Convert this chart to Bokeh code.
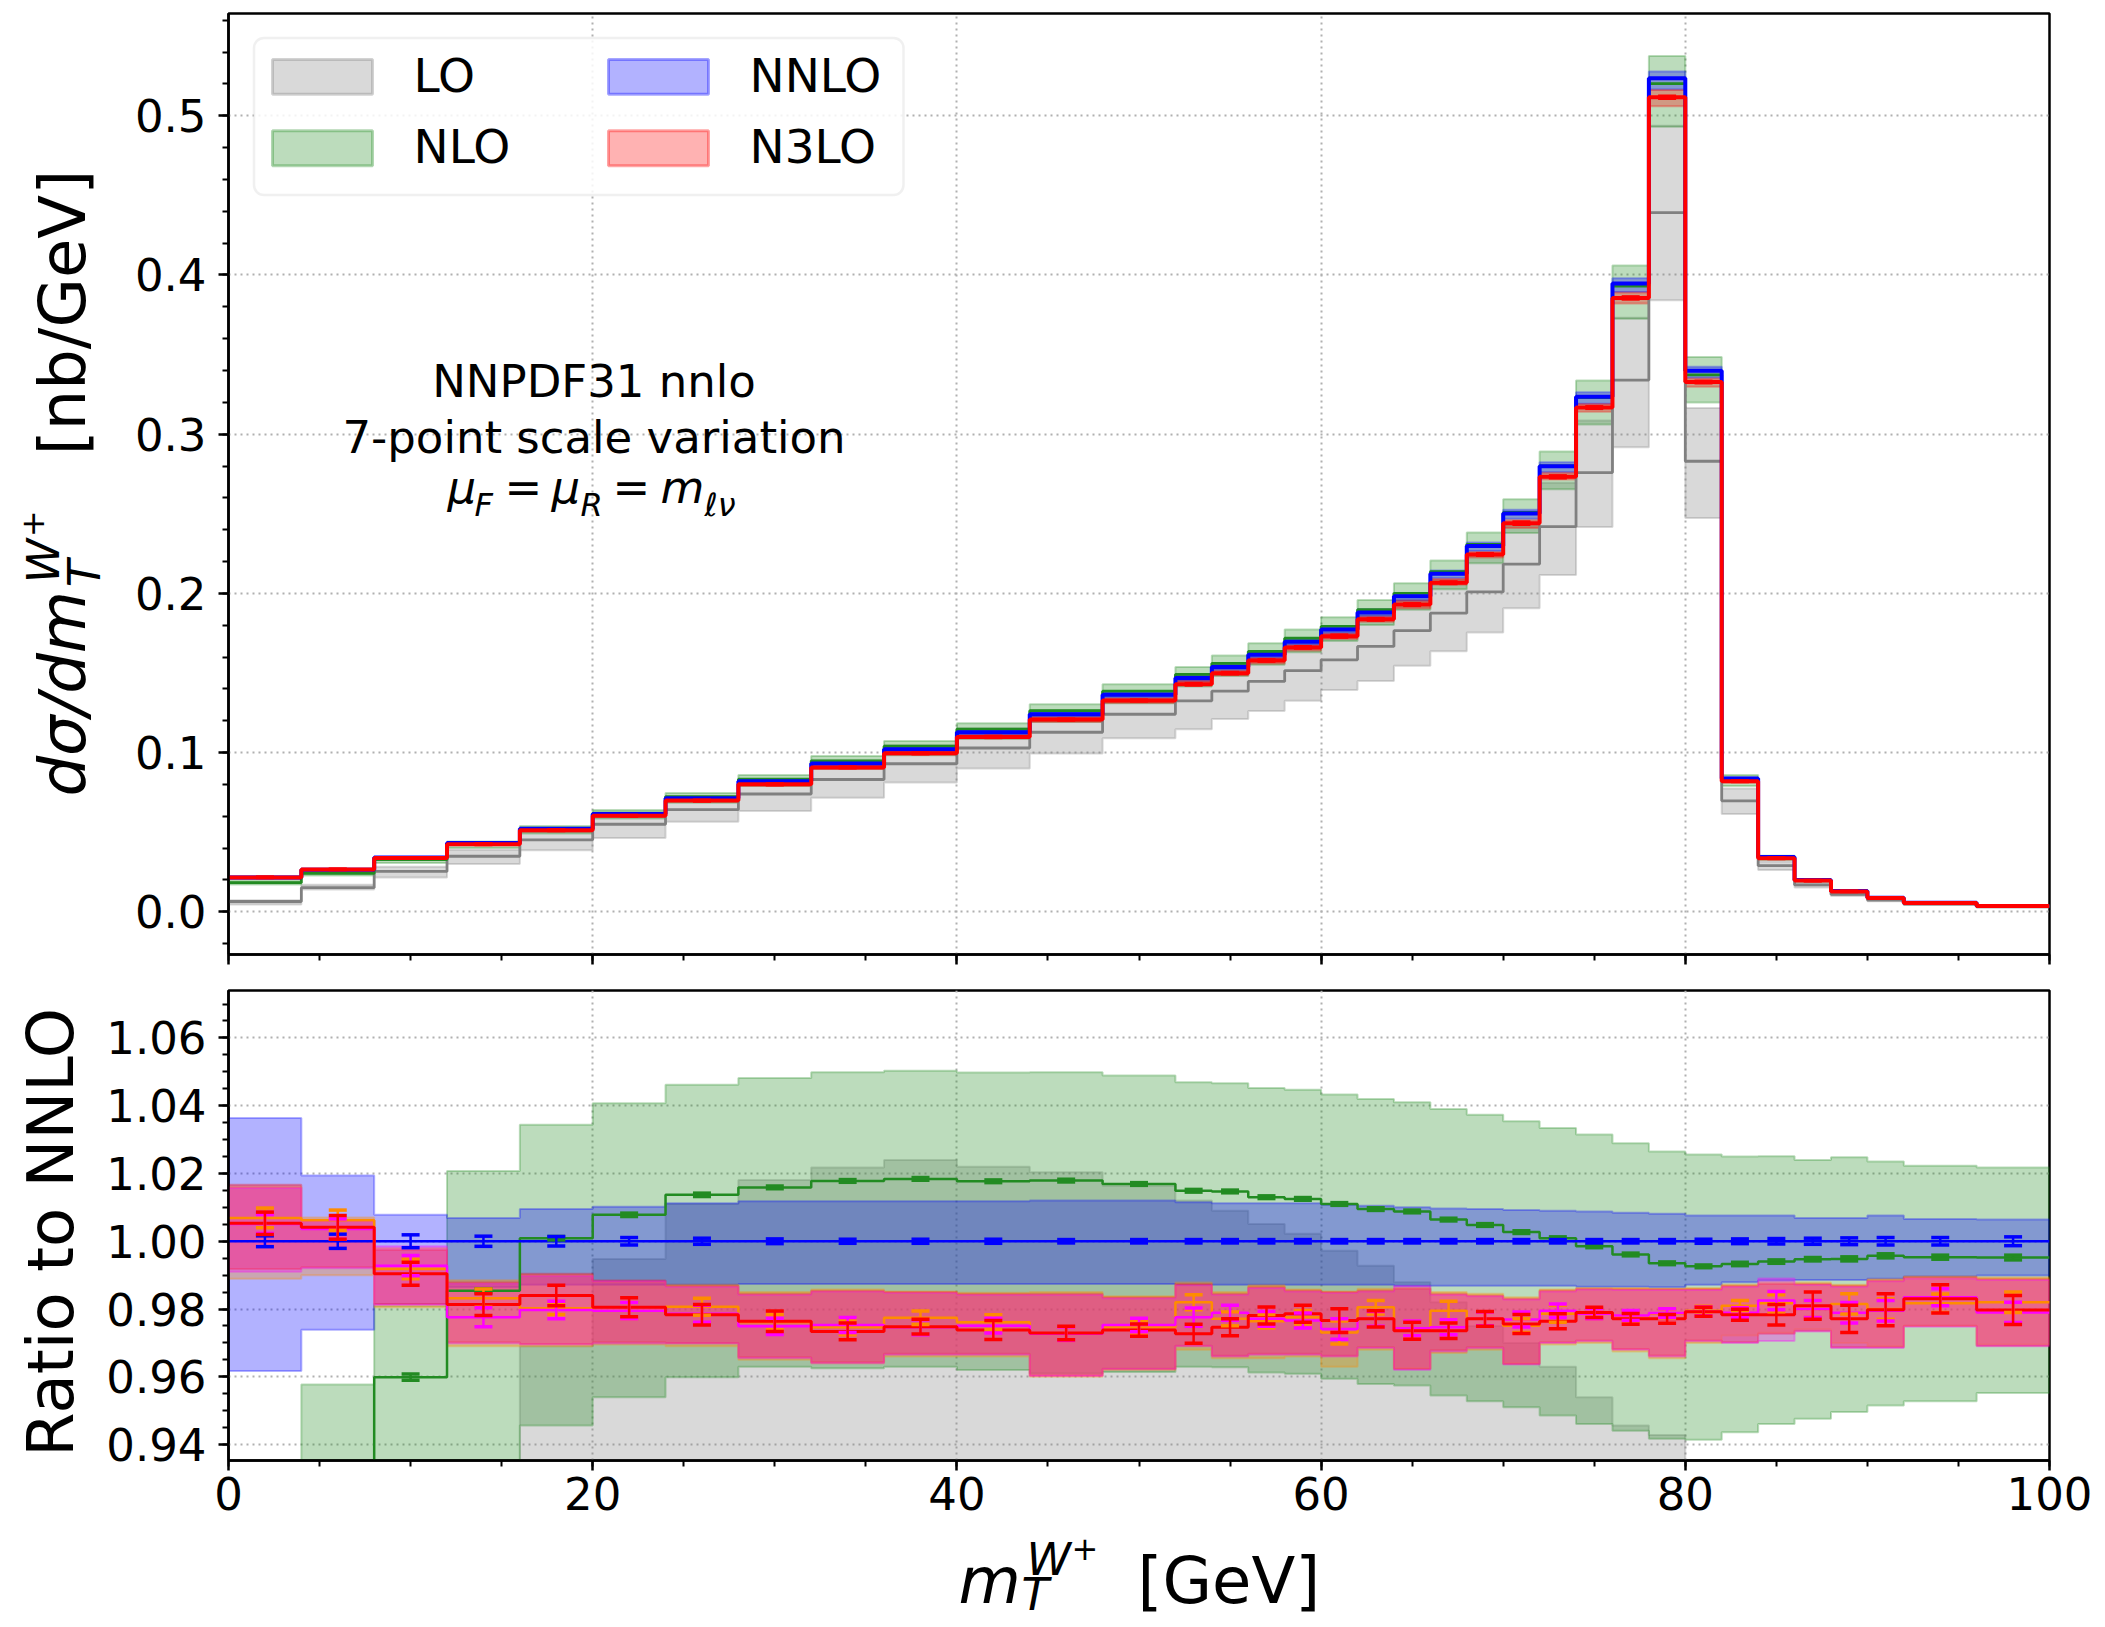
import math
import numpy as np
from bokeh.plotting import figure
from bokeh.layouts import column, row
from bokeh.models import (Range1d, SingleIntervalTicker, PrintfTickFormatter, Label,
                          BoxAnnotation, Whisker, TeeHead, ColumnDataSource,
                          CustomLabelingPolicy)
from bokeh.embed import file_html
from bokeh.resources import INLINE

# ---------------- data ----------------
edges = [0, 4, 8, 12, 16, 20, 24, 28, 32, 36, 40, 44, 48, 52, 54, 56, 58, 60, 62, 64,
         66, 68, 70, 72, 74, 76, 78, 80, 82, 84, 86, 88, 90, 92, 96, 100]

# NNLO absolute cross section [nb/GeV]
nnlo = [0.0215, 0.0265, 0.0341, 0.0433, 0.0521, 0.0615, 0.0714, 0.0820, 0.0932, 0.1021,
        0.1128, 0.1241, 0.1363, 0.1469, 0.1538, 0.1614, 0.1697, 0.1773, 0.1880, 0.1982,
        0.2123, 0.2297, 0.2502, 0.2798, 0.3235, 0.3946, 0.5236, 0.3398, 0.0838, 0.0344,
        0.0200, 0.0131, 0.0088, 0.0057, 0.0037]

# LO absolute: central, lower band edge
lo_c = [0.0065, 0.0152, 0.0254, 0.0349, 0.0452, 0.0550, 0.0642, 0.0740, 0.0831, 0.0930,
        0.1029, 0.1128, 0.1241, 0.1325, 0.1386, 0.1447, 0.1515, 0.1583, 0.1667, 0.1766,
        0.1876, 0.2009, 0.2184, 0.2419, 0.2759, 0.3340, 0.4392, 0.2830, 0.0697, 0.0290,
        0.0169, 0.0109, 0.0074, 0.0048, 0.0031]
lo_lo = [0.0046, 0.0140, 0.0216, 0.0300, 0.0387, 0.0463, 0.0566, 0.0634, 0.0717, 0.0813,
         0.0900, 0.0995, 0.1090, 0.1147, 0.1211, 0.1261, 0.1325, 0.1393, 0.1450, 0.1545,
         0.1637, 0.1754, 0.1906, 0.2115, 0.2417, 0.2918, 0.3841, 0.2474, 0.0614, 0.0262,
         0.0153, 0.0099, 0.0066, 0.0043, 0.0028]
# LO upper band edge, as ratio to NNLO
lo_hi_r = [0.337, 0.640, 0.830, 0.900, 0.969, 0.9948, 1.0110, 1.0181, 1.0218, 1.0240,
           1.0220, 1.0204, 1.0164, 1.0120, 1.0090, 1.0051, 1.0022, 0.9972, 0.9928, 0.9879,
           0.9820, 0.9750, 0.9700, 0.9630, 0.9540, 0.9456, 0.9428, 0.9310, 0.9250, 0.9200,
           0.9200, 0.9200, 0.9200, 0.9200, 0.9200]

# NLO / NNLO
nlo_r = [0.852, 0.909, 0.9599, 0.9854, 1.0009, 1.0078, 1.0137, 1.0159, 1.0178, 1.0184,
         1.0177, 1.0179, 1.0169, 1.0149, 1.0147, 1.0130, 1.0125, 1.0110, 1.0095, 1.0088,
         1.0064, 1.0048, 1.0027, 1.0009, 0.9985, 0.9961, 0.9935, 0.9926, 0.9933, 0.9940,
         0.9947, 0.9948, 0.9957, 0.9953, 0.9952]
nlo_hi_r = [0.905, 0.9577, 0.9810, 1.0207, 1.0344, 1.0407, 1.0462, 1.0482, 1.0499, 1.0503,
            1.0498, 1.0499, 1.0489, 1.0469, 1.0466, 1.0452, 1.0447, 1.0433, 1.0420, 1.0410,
            1.0390, 1.0373, 1.0354, 1.0334, 1.0315, 1.0289, 1.0265, 1.0256, 1.0250, 1.0251,
            1.0240, 1.0248, 1.0235, 1.0223, 1.0218]
nlo_lo_r = [0.800, 0.860, 0.900, 0.925, 0.9456, 0.9540, 0.9599, 0.9630, 0.9625, 0.9630,
            0.9620, 0.9610, 0.9614, 0.9630, 0.9628, 0.9613, 0.9609, 0.9594, 0.9579, 0.9574,
            0.9545, 0.9528, 0.9510, 0.9486, 0.9461, 0.9441, 0.9417, 0.9414, 0.9436, 0.9461,
            0.9476, 0.9496, 0.9515, 0.9528, 0.9552]
nlo_err = [0.0010, 0.0010, 0.0009, 0.0006, 0.0005, 0.0005, 0.0005, 0.0004, 0.0004, 0.0004,
           0.0004, 0.0004, 0.0004, 0.0004, 0.0004, 0.0004, 0.0004, 0.0004, 0.0004, 0.0004,
           0.0004, 0.0004, 0.0004, 0.0004, 0.0004, 0.0004, 0.0004, 0.0004, 0.0005, 0.0005,
           0.0005, 0.0006, 0.0006, 0.0006, 0.0007]

# NNLO band / NNLO
nnlo_hi_r = [1.0364, 1.0194, 1.0078, 1.0069, 1.0095, 1.0102, 1.0112, 1.0118, 1.0118, 1.0118,
             1.0118, 1.0120, 1.0120, 1.0115, 1.0112, 1.0112, 1.0112, 1.0108, 1.0105, 1.0100,
             1.0097, 1.0095, 1.0092, 1.0090, 1.0088, 1.0084, 1.0081, 1.0076, 1.0076, 1.0076,
             1.0069, 1.0069, 1.0076, 1.0066, 1.0064]
nnlo_lo_r = [0.9617, 0.9739, 0.9815, 0.9864, 0.9872, 0.9872, 0.9872, 0.9874, 0.9874, 0.9874,
             0.9874, 0.9874, 0.9874, 0.9872, 0.9872, 0.9872, 0.9872, 0.9872, 0.9872, 0.9869,
             0.9869, 0.9869, 0.9869, 0.9869, 0.9866, 0.9866, 0.9864, 0.9872, 0.9879, 0.9884,
             0.9886, 0.9886, 0.9889, 0.9896, 0.9899]
nnlo_err = [0.0016, 0.0021, 0.0019, 0.0015, 0.0014, 0.0011, 0.0009, 0.0007, 0.0006, 0.0006,
            0.0006, 0.0005, 0.0005, 0.0005, 0.0005, 0.0005, 0.0005, 0.0005, 0.0005, 0.0005,
            0.0005, 0.0005, 0.0005, 0.0005, 0.0005, 0.0005, 0.0005, 0.0006, 0.0007, 0.0008,
            0.0009, 0.0010, 0.0011, 0.0011, 0.0013]

# N3LO / NNLO (red)
n3lo_r = [1.0053, 1.0041, 0.9904, 0.9813, 0.9840, 0.9805, 0.9783, 0.9764, 0.9734, 0.9748,
          0.9738, 0.9729, 0.9738, 0.9727, 0.9746, 0.9781, 0.9786, 0.9766, 0.9771, 0.9736,
          0.9736, 0.9771, 0.9756, 0.9764, 0.9790, 0.9771, 0.9771, 0.9792, 0.9783, 0.9783,
          0.9810, 0.9771, 0.9798, 0.9830, 0.9797]
n3lo_hi_r = [1.0167, 1.0063, 0.9974, 0.9879, 0.9904, 0.9884, 0.9869, 0.9845, 0.9854, 0.9850,
             0.9845, 0.9845, 0.9835, 0.9874, 0.9845, 0.9866, 0.9855, 0.9850, 0.9855, 0.9860,
             0.9845, 0.9840, 0.9830, 0.9855, 0.9860, 0.9859, 0.9859, 0.9859, 0.9869, 0.9874,
             0.9874, 0.9869, 0.9884, 0.9894, 0.9889]
n3lo_lo_r = [0.9918, 0.9923, 0.9815, 0.9702, 0.9697, 0.9702, 0.9700, 0.9658, 0.9643, 0.9668,
             0.9668, 0.9604, 0.9624, 0.9692, 0.9662, 0.9668, 0.9668, 0.9662, 0.9687, 0.9623,
             0.9678, 0.9687, 0.9638, 0.9702, 0.9707, 0.9682, 0.9663, 0.9707, 0.9702, 0.9727,
             0.9736, 0.9687, 0.9687, 0.9751, 0.9692]
n3lo_err = [0.0033, 0.0035, 0.0034, 0.0032, 0.0030, 0.0028, 0.0030, 0.0030, 0.0025, 0.0022,
            0.0028, 0.0020, 0.0018, 0.0028, 0.0025, 0.0025, 0.0025, 0.0035, 0.0024, 0.0025,
            0.0023, 0.0022, 0.0028, 0.0022, 0.0015, 0.0016, 0.0013, 0.0013, 0.0016, 0.0030,
            0.0040, 0.0040, 0.0047, 0.0042, 0.0043]

# orange variant / NNLO
orng_r = [1.0069, 1.0062, 0.9918, 0.9832, 0.9802, 0.9795, 0.9807, 0.9761, 0.9746, 0.9774,
          0.9761, 0.9727, 0.9746, 0.9820, 0.9771, 0.9764, 0.9776, 0.9731, 0.9805, 0.9741,
          0.9795, 0.9771, 0.9751, 0.9786, 0.9786, 0.9776, 0.9786, 0.9795, 0.9810, 0.9817,
          0.9800, 0.9815, 0.9800, 0.9817, 0.9820]
orng_hi_r = [1.0160, 1.0070, 0.9980, 0.9885, 0.9900, 0.9880, 0.9872, 0.9850, 0.9858, 0.9852,
             0.9848, 0.9850, 0.9838, 0.9878, 0.9850, 0.9870, 0.9858, 0.9852, 0.9860, 0.9862,
             0.9850, 0.9845, 0.9835, 0.9858, 0.9862, 0.9862, 0.9860, 0.9862, 0.9872, 0.9878,
             0.9878, 0.9872, 0.9888, 0.9896, 0.9893]
orng_lo_r = [0.9889, 0.9900, 0.9805, 0.9690, 0.9690, 0.9695, 0.9690, 0.9650, 0.9640, 0.9660,
             0.9660, 0.9600, 0.9620, 0.9680, 0.9655, 0.9655, 0.9660, 0.9630, 0.9680, 0.9625,
             0.9670, 0.9680, 0.9640, 0.9695, 0.9700, 0.9675, 0.9655, 0.9700, 0.9722, 0.9730,
             0.9740, 0.9700, 0.9690, 0.9750, 0.9695]
orng_err = [0.0029, 0.0030, 0.0029, 0.0027, 0.0018, 0.0024, 0.0025, 0.0022, 0.0022, 0.0020,
            0.0022, 0.0020, 0.0020, 0.0022, 0.0020, 0.0020, 0.0020, 0.0034, 0.0020, 0.0022,
            0.0028, 0.0020, 0.0020, 0.0025, 0.0015, 0.0015, 0.0013, 0.0013, 0.0015, 0.0025,
            0.0025, 0.0030, 0.0030, 0.0027, 0.0030]

# magenta variant / NNLO
mgnt_r = [1.0051, 1.0036, 0.9928, 0.9776, 0.9797, 0.9795, 0.9786, 0.9749, 0.9753, 0.9746,
          0.9751, 0.9727, 0.9753, 0.9776, 0.9789, 0.9771, 0.9766, 0.9741, 0.9771, 0.9743,
          0.9746, 0.9771, 0.9769, 0.9795, 0.9786, 0.9781, 0.9788, 0.9793, 0.9789, 0.9825,
          0.9800, 0.9789, 0.9795, 0.9835, 0.9790]
mgnt_hi_r = [1.0158, 1.0060, 0.9985, 0.9875, 0.9898, 0.9882, 0.9866, 0.9842, 0.9852, 0.9848,
             0.9842, 0.9842, 0.9832, 0.9870, 0.9842, 0.9862, 0.9852, 0.9848, 0.9852, 0.9868,
             0.9842, 0.9838, 0.9828, 0.9852, 0.9858, 0.9856, 0.9856, 0.9856, 0.9866, 0.9890,
             0.9872, 0.9866, 0.9882, 0.9890, 0.9886]
mgnt_lo_r = [0.9910, 0.9920, 0.9812, 0.9698, 0.9695, 0.9698, 0.9698, 0.9655, 0.9640, 0.9665,
             0.9665, 0.9602, 0.9622, 0.9690, 0.9660, 0.9665, 0.9665, 0.9660, 0.9685, 0.9620,
             0.9675, 0.9684, 0.9636, 0.9700, 0.9705, 0.9680, 0.9660, 0.9705, 0.9700, 0.9706,
             0.9734, 0.9685, 0.9685, 0.9748, 0.9690]
mgnt_err = [0.0028, 0.0030, 0.0030, 0.0028, 0.0026, 0.0024, 0.0025, 0.0024, 0.0022, 0.0022,
            0.0022, 0.0020, 0.0020, 0.0027, 0.0022, 0.0022, 0.0022, 0.0030, 0.0022, 0.0022,
            0.0022, 0.0020, 0.0022, 0.0020, 0.0015, 0.0015, 0.0013, 0.0013, 0.0015, 0.0027,
            0.0025, 0.0030, 0.0030, 0.0025, 0.0030]

legend_labels = ["LO", "NLO", "NNLO", "N3LO"]
x_ticks_interval = 20

# ---------------- styling / layout constants ----------------
FONT = "DejaVu Sans"
W, HTOT = 2105, 1627
L, R = 228, 2049
T1, B1, H1 = 13, 956, 975          # top row: canvas y 0..975
T2, B2, Y2END = 990, 1460, 1530    # ratio row: canvas y 975..1530
TW1, TW2 = 125, 100                # widths of the left text strips
XLO, XHI = 0.0, 100.0
Y1LO, Y1HI = -0.0268, 0.5642
Y2LO, Y2HI = 0.9353, 1.0740
BSHIFT = 0.40                      # baseline correction (em), horizontal text
RSHIFT = 0.09                      # along-text correction (em), rotated text

C_LO, C_NLO, C_NNLO, C_N3LO = "#808080", "#228B22", "#0000ff", "#ff0000"
C_OR, C_MG = "#ff8c00", "#ff00ff"


def dx(cx):
    return XLO + (cx - L) / (R - L) * (XHI - XLO)


def dy1(cy):
    return Y1LO + (B1 - cy) / (B1 - T1) * (Y1HI - Y1LO)


def dy2(cy):
    return Y2LO + (B2 - cy) / (B2 - T2) * (Y2HI - Y2LO)


nb = len(nnlo)
centers = [(edges[i] + edges[i + 1]) / 2 for i in range(nb)]
NN = np.array(nnlo)


def steps(vals):
    xs, ys = [], []
    for i, v in enumerate(vals):
        xs += [edges[i], edges[i + 1]]
        ys += [float(v), float(v)]
    return xs, ys


def band(p, lo, hi, color, alpha=0.3, lw=2):
    xs, ylo = steps(lo)
    _, yhi = steps(hi)
    p.varea(x=xs, y1=ylo, y2=yhi, fill_color=color, fill_alpha=alpha)
    ox = xs + xs[::-1] + [xs[0]]
    oy = yhi + ylo[::-1] + [yhi[0]]
    p.line(ox, oy, line_color=color, line_alpha=alpha, line_width=lw)


def stepline(p, vals, color, lw):
    xs, ys = steps(vals)
    p.line(xs, ys, line_color=color, line_width=lw)


def errbars(p, vals, errs, color, cap=18, lw=2.5):
    src = ColumnDataSource(dict(base=centers,
                                lower=[float(v - e) for v, e in zip(vals, errs)],
                                upper=[float(v + e) for v, e in zip(vals, errs)]))
    w = Whisker(source=src, base="base", lower="lower", upper="upper",
                line_color=color, line_width=lw, level="annotation",
                upper_head=TeeHead(size=cap, line_color=color, line_width=3.5),
                lower_head=TeeHead(size=cap, line_color=color, line_width=3.5))
    p.add_layout(w)


def put(p, fx, fy, cx, cy, text, size, style="normal", rot=False, align="left"):
    """Place text with its baseline start at canvas (cx, cy); fx/fy map canvas -> data."""
    if rot:
        cx = cx - BSHIFT * size
        cy = cy + RSHIFT * size
    else:
        cy = cy - BSHIFT * size
    p.add_layout(Label(x=fx(cx), y=fy(cy), text=text, text_font=FONT,
                       text_font_size=f"{size}px", text_font_style=style,
                       angle=(math.pi / 2 if rot else 0.0), text_align=align,
                       text_baseline="alphabetic", text_color="black"))


def make_fig(width, height, ylo, yhi, left_b, top_b, bot_b, yint, yminor, yfmt):
    p = figure(width=width, height=height, x_range=Range1d(XLO, XHI),
               y_range=Range1d(ylo, yhi), toolbar_location=None, output_backend="svg")
    p.min_border_left = left_b
    p.min_border_right = W - R
    p.min_border_top = top_b
    p.min_border_bottom = bot_b
    p.background_fill_color = "white"
    p.border_fill_color = "white"
    p.outline_line_color = "black"
    p.outline_line_width = 2.5
    p.xaxis.ticker = SingleIntervalTicker(interval=x_ticks_interval, num_minor_ticks=4)
    p.yaxis.ticker = SingleIntervalTicker(interval=yint, num_minor_ticks=yminor)
    p.xaxis.formatter = PrintfTickFormatter(format="%d")
    p.yaxis.formatter = PrintfTickFormatter(format=yfmt)
    p.axis.axis_line_width = 2.5
    p.axis.axis_line_color = "black"
    p.axis.major_tick_line_width = 2.5
    p.axis.minor_tick_line_width = 2
    p.axis.major_tick_line_color = "black"
    p.axis.minor_tick_line_color = "black"
    p.axis.major_tick_out = 10
    p.axis.major_tick_in = 0
    p.axis.minor_tick_out = 6
    p.axis.minor_tick_in = 0
    p.axis.major_label_text_font = FONT
    p.axis.major_label_text_font_size = "45px"
    p.axis.major_label_text_color = "black"
    p.yaxis.major_label_standoff = 12
    p.xaxis.major_label_standoff = 6
    p.grid.grid_line_color = "#b0b0b0"
    p.grid.grid_line_dash = "2 4"
    p.grid.grid_line_width = 2
    return p


def text_fig(width, height, yspan):
    # note: in a row, the frame of this strip is aligned with the neighbouring plot's frame,
    # so its data y range spans only that frame (yspan px)
    f = figure(width=width, height=height, x_range=Range1d(0, width), y_range=Range1d(0, yspan),
               toolbar_location=None, output_backend="svg", x_axis_location=None,
               y_axis_location=None, min_border=0)
    f.outline_line_color = None
    f.background_fill_color = "white"
    f.border_fill_color = "white"
    for g in f.grid:
        g.grid_line_color = None
        g.visible = False
    return f


# ================= top panel =================
p1 = make_fig(W - TW1, H1, Y1LO, Y1HI, L - TW1, T1, H1 - B1, 0.1, 5, "%.1f")
p1.xaxis.major_label_policy = CustomLabelingPolicy(code="return new Set()")
p1.xaxis.major_label_text_font_size = "10px"
p1.xaxis.major_label_standoff = 0

lo_hi_abs = NN * np.array(lo_hi_r)
band(p1, lo_lo, lo_hi_abs, C_LO)
band(p1, NN * np.array(nlo_lo_r), NN * np.array(nlo_hi_r), C_NLO)
band(p1, NN * np.array(nnlo_lo_r), NN * np.array(nnlo_hi_r), C_NNLO)
band(p1, NN * np.array(n3lo_lo_r), NN * np.array(n3lo_hi_r), C_N3LO)
stepline(p1, lo_c, C_LO, 2.8)
stepline(p1, NN * np.array(nlo_r), C_NLO, 2.8)
stepline(p1, NN, C_NNLO, 4)
stepline(p1, NN * np.array(n3lo_r), C_N3LO, 4)
errbars(p1, NN * np.array(n3lo_r), NN * np.array(n3lo_err), C_N3LO, cap=18, lw=2.5)

# legend (manual)
p1.add_layout(BoxAnnotation(left=dx(253.5), right=dx(903), top=dy1(37.6), bottom=dy1(195),
                            fill_color="white", fill_alpha=0.85, line_color="#cccccc",
                            line_width=2.5, border_radius=10, level="annotation"))
leg = [(legend_labels[0], C_LO, 272, 94), (legend_labels[1], C_NLO, 272, 165.5),
       (legend_labels[2], C_NNLO, 608, 94), (legend_labels[3], C_N3LO, 608, 165.5)]
for txt, col, px, base in leg:
    p1.add_layout(BoxAnnotation(left=dx(px), right=dx(px + 100), top=dy1(base - 35),
                                bottom=dy1(base), fill_color=col, fill_alpha=0.3,
                                line_color=col, line_alpha=0.35, line_width=3,
                                level="annotation"))
    put(p1, dx, dy1, px + 141, base, txt, 47)

# annotation text
put(p1, dx, dy1, 593.5, 400, "NNPDF31 nnlo", 45, align="center")
put(p1, dx, dy1, 593.5, 456, "7-point scale variation", 45, align="center")
MB = 506
put(p1, dx, dy1, 447, MB, "\u03bc", 45, "italic")
put(p1, dx, dy1, 474, MB + 12, "F", 32, "italic")
put(p1, dx, dy1, 504, MB, "=", 45)
put(p1, dx, dy1, 551, MB, "\u03bc", 45, "italic")
put(p1, dx, dy1, 580, MB + 12, "R", 32, "italic")
put(p1, dx, dy1, 612, MB, "=", 45)
put(p1, dx, dy1, 660, MB, "m", 45, "italic")
put(p1, dx, dy1, 704, MB + 12, "\u2113\u03bd", 32, "italic")

# left text strip with the y title of the top panel
t1 = text_fig(TW1, H1, B1 - T1)
fx1 = lambda cx: cx
fy1 = lambda cy: B1 - cy
BX, Y0 = 88, 792
put(t1, fx1, fy1, BX, Y0, "d\u03c3/dm", 64, "italic", rot=True)
put(t1, fx1, fy1, BX + 14, Y0 - 208, "T", 45, "italic", rot=True)
put(t1, fx1, fy1, BX - 27, Y0 - 212, "W", 45, "italic", rot=True)
put(t1, fx1, fy1, BX - 43, Y0 - 257, "+", 32, "normal", rot=True)
put(t1, fx1, fy1, BX, Y0 - 342, "[nb/GeV]", 64, "normal", rot=True)

# ================= ratio panel =================
H2 = Y2END - H1
p2 = make_fig(W - TW2, H2, Y2LO, Y2HI, L - TW2, T2 - H1, Y2END - B2, 0.02, 4, "%.2f")

band(p2, list(np.array(lo_lo) / NN), lo_hi_r, C_LO)
band(p2, nlo_lo_r, nlo_hi_r, C_NLO)
band(p2, nnlo_lo_r, nnlo_hi_r, C_NNLO)
band(p2, n3lo_lo_r, n3lo_hi_r, C_N3LO)
band(p2, orng_lo_r, orng_hi_r, C_OR)
band(p2, mgnt_lo_r, mgnt_hi_r, C_MG)

nnlo_ratio = NN / NN
stepline(p2, nlo_r, C_NLO, 2.5)
stepline(p2, nnlo_ratio, C_NNLO, 2.5)
stepline(p2, orng_r, C_OR, 2.5)
stepline(p2, mgnt_r, C_MG, 2.5)
stepline(p2, n3lo_r, C_N3LO, 3)

errbars(p2, nlo_r, nlo_err, C_NLO)
errbars(p2, nnlo_ratio, nnlo_err, C_NNLO)
errbars(p2, orng_r, orng_err, C_OR)
errbars(p2, mgnt_r, mgnt_err, C_MG)
errbars(p2, n3lo_r, n3lo_err, C_N3LO)

t2 = text_fig(TW2, H2, B2 - T2)
fx2 = lambda cx: cx
fy2 = lambda cy: B2 - cy
put(t2, fx2, fy2, 76, 1226, "Ratio to NNLO", 64, "normal", rot=True, align="center")

# bottom text strip with the x title
HX = HTOT - Y2END
tx = text_fig(W, HX, HX)
fxx = lambda cx: cx
fyx = lambda cy: HTOT - cy
XB = 1606
put(tx, fxx, fyx, 958, XB, "m", 64, "italic")
put(tx, fxx, fyx, 1021, XB + 6, "T", 45, "italic")
put(tx, fxx, fyx, 1026, XB - 29, "W", 45, "italic")
put(tx, fxx, fyx, 1071, XB - 45, "+", 32)
put(tx, fxx, fyx, 1137, XB, "[GeV]", 64)

layout = column(row(t1, p1), row(t2, p2), tx)
open("out.html", "w").write(file_html(layout, INLINE, "mT W+ distribution"))
